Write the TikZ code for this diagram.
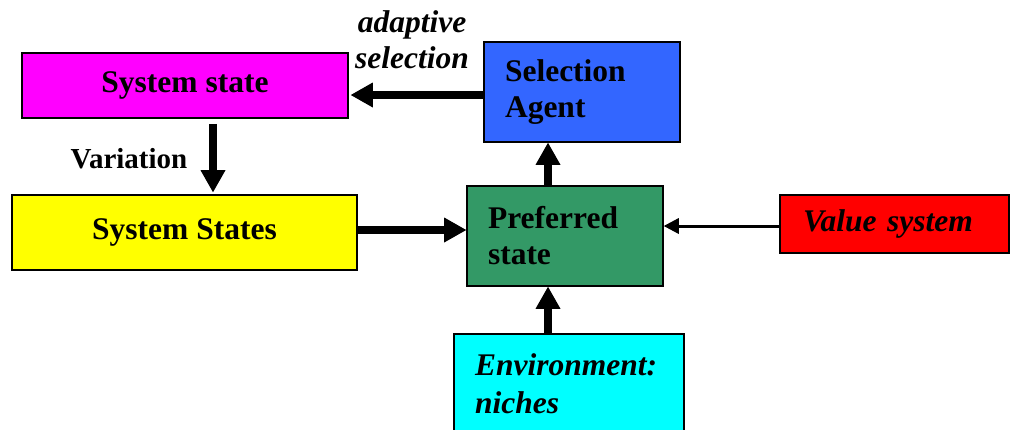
\documentclass[tikz,border=0pt]{standalone}
\usepackage{fontspec}
\setmainfont{Liberation Serif}
\usetikzlibrary{arrows.meta}
\definecolor{cmag}{RGB}{255,0,255}
\definecolor{cblue}{RGB}{51,102,255}
\definecolor{cyel}{RGB}{255,255,0}
\definecolor{cgreen}{RGB}{51,153,102}
\definecolor{cred}{RGB}{255,0,0}
\definecolor{ccyan}{RGB}{0,255,255}
\begin{document}
\begin{tikzpicture}[x=1pt,y=-1pt,
  box/.style={draw=black,line width=1.6pt,inner sep=0pt,font=\fontsize{31.5}{36}\selectfont\bfseries},
  lbl/.style={inner sep=0pt,font=\fontsize{31.5}{36}\selectfont\bfseries},
  bigarrow/.style={line width=8pt,-{Triangle[length=22pt,width=25pt,line width=0pt]}},
  thinarrow/.style={line width=3pt,-{Triangle[length=15pt,width=16pt,line width=0pt]}}]
\useasboundingbox (0,0) rectangle (1011,429);
\node[box,fill=cmag,minimum width=326pt,minimum height=65pt] (ss) at (185,85.5) {System state};
\node[box,fill=cblue,minimum width=196pt,minimum height=100pt,text width=154pt,align=left] (sa) at (582,92) {Selection\\Agent};
\node[box,fill=cyel,minimum width=345pt,minimum height=75pt] (sys) at (184.5,232.5) {System States};
\node[box,fill=cgreen,minimum width=196pt,minimum height=100pt,text width=154pt,align=left] (pref) at (565,236) {Preferred\\state};
\node[box,fill=cred,minimum width=229pt,minimum height=58pt,text width=183pt,align=left,font=\fontsize{31.5}{36}\selectfont\bfseries\itshape] (val) at (894.5,224) {Value system};
\node[box,fill=ccyan,minimum width=230pt,minimum height=100pt,text width=188pt,align=left,font=\fontsize{31.5}{38}\selectfont\bfseries\itshape] (env) at (569,384) {Environment:\\niches};
\node[lbl,align=center,font=\fontsize{31.5}{36}\selectfont\bfseries\itshape] (ad) at (412,40) {adaptive\\selection};
\node[lbl,font=\fontsize{29}{34}\selectfont\bfseries] (var) at (129,159) {Variation};
\coordinate (ay) at (0,95);
\coordinate (vx) at (213,0);
\coordinate (hy) at (0,230);
\coordinate (vx2) at (548,0);
\coordinate (ty) at (0,226);
\draw[bigarrow] (sa.west |- ay) -- ([xshift=2pt]ss.east |- ay);
\draw[bigarrow,shorten <=5pt] (vx |- ss.south) -- ([yshift=2pt]vx |- sys.north);
\draw[bigarrow] (sys.east |- hy) -- (pref.west |- hy);
\draw[bigarrow] (vx2 |- pref.north) -- (vx2 |- sa.south);
\draw[bigarrow] (vx2 |- env.north) -- (vx2 |- pref.south);
\draw[thinarrow] (val.west |- ty) -- (pref.east |- ty);
\end{tikzpicture}
\end{document}
